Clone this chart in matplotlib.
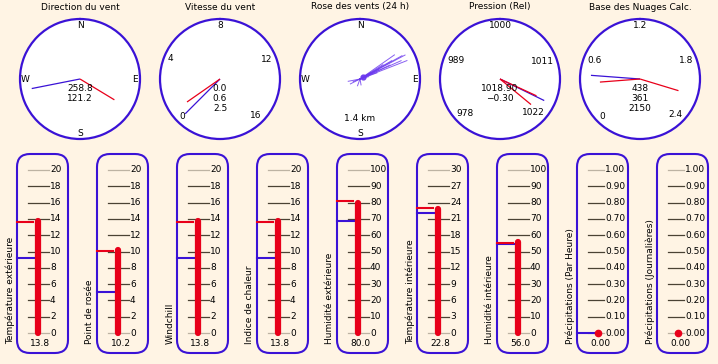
"""Weather station panel: five round dials on top, nine thermometers below."""

import numpy as np
import matplotlib

matplotlib.use("Agg")

import matplotlib.pyplot as plt
from matplotlib.patches import FancyBboxPatch

plt.rcParams["font.family"] = ["DejaVu Sans"]
plt.rcParams["font.size"] = 6.5

BG = "#fff4e4"
BLUE = "#3a12d6"
RED = "#e8001a"
ROSE = "#6a38ee"
TICK_DARK = "#4a4234"
TICK_LIGHT = "#bdb3a3"

# ---- dials ---------------------------------------------------------------
dial_titles = ["Direction du vent", "Vitesse du vent", "Rose des vents (24 h)",
               "Pression (Rel)", "Base des Nuages Calc."]

wind_dir_blue = 258.8
wind_dir_red = 121.2
wind_dir_text = ["258.8", "121.2"]

speed_range = (0, 16)
speed_labels = [0, 4, 8, 12, 16]
speed_blue = 0.0
speed_red = [0.6]
speed_text = ["0.0", "0.6", "2.5"]

rose_dirs = [62, 68.6, 61, 55, 60, 65, 58, 63, 70, 66, 259, 243, 250, 200, 170, 60, 75]
rose_lens = [0.85, 0.84, 0.80, 0.70, 0.61, 0.55, 0.45, 0.35, 0.30, 0.75,
             0.20, 0.18, 0.12, 0.12, 0.10, 0.20, 0.15]
rose_text = "1.4 km"

press_range = (978, 1022)
press_labels = [978, 989, 1000, 1011, 1022]
press_blue = 1018.9
press_red = [1018.7, 1021.1]
press_text = ["1018.90", "\u22120.30"]

cloud_range = (0, 2.4)
cloud_labels = ["0", "0.6", "1.2", "1.8", "2.4"]
cloud_blue = 0.438
cloud_red = [0.361, 2.150]
cloud_text = ["438", "361", "2150"]

# ---- thermometers --------------------------------------------------------
therm_labels = ["Température extérieure", "Point de rosée", "Windchill",
                "Indice de chaleur", "Humidité extérieure", "Température intérieure",
                "Humidité intérieure", "Précipitations (Par Heure)",
                "Précipitations (Journalières)"]
therm_values = [13.8, 10.2, 13.8, 13.8, 80.0, 22.8, 56.0, 0.00, 0.00]
therm_high = [13.6, 10.1, 13.6, 13.6, 80.8, 23.0, 55.4, None, None]
therm_low = [9.2, 5.0, 9.2, 9.2, 69.0, 22.1, 54.6, 0.0, None]
therm_max = [20, 20, 20, 20, 100, 30, 100, 1.0, 1.0]
therm_step = [2, 2, 2, 2, 10, 3, 10, 0.1, 0.1]
therm_fmt = ["{:.0f}"] * 7 + ["{:.2f}"] * 2
value_fmt = ["{:.1f}"] * 7 + ["{:.2f}"] * 2

W, H = 718, 364
fig = plt.figure(figsize=(W / 100, H / 100), dpi=100, facecolor=BG)
bg = fig.add_axes([0, 0, 1, 1])
bg.set_xlim(0, W)
bg.set_ylim(H, 0)
bg.axis("off")
bg.set_zorder(0)

DIAL_Y, DIAL_R = 79, 60
dial_x = [80 + 140 * i for i in range(5)]


def make_dial(cx, title):
    bg.text(cx, 7, title, ha="center", va="center")
    ax = fig.add_axes([(cx - DIAL_R) / W, (H - DIAL_Y - DIAL_R) / H,
                       2 * DIAL_R / W, 2 * DIAL_R / H], projection="polar")
    ax.set_theta_zero_location("N")
    ax.set_theta_direction(-1)
    ax.set_ylim(0, 1)
    ax.set_xticks([])
    ax.set_yticks([])
    ax.grid(False)
    ax.set_facecolor("white")
    ax.spines["polar"].set_color(BLUE)
    ax.spines["polar"].set_linewidth(1.6)
    return ax


def bearing(v, lo, hi):
    return np.deg2rad(-135 + (v - lo) / (hi - lo) * 270)


def needle(ax, theta, length, color, lw=0.9):
    ax.plot([theta, theta], [0, length], color=color, lw=lw, solid_capstyle="butt")


def center_text(ax, lines, start=0.417):
    for k, s in enumerate(lines):
        ax.text(0.5, start - k * 0.083, s, transform=ax.transAxes,
                ha="center", va="center")


def dial_label(ax, theta, s):
    # keep the outer edge of the label just inside the rim
    w = sum(2.9 if c == "." else 5.8 for c in s)
    r = (57.5 - w / 2 * abs(np.sin(theta)) - 3.5 * abs(np.cos(theta))) / DIAL_R
    ax.text(theta, r, s, ha="center", va="center")


def scale_labels(ax, labels, values, lo, hi):
    for lab, v in zip(labels, values):
        dial_label(ax, bearing(v, lo, hi), lab)


def compass(ax):
    for lab, b in zip("NESW", [0, 90, 180, 270]):
        dial_label(ax, np.deg2rad(b), lab)


# wind direction
ax = make_dial(dial_x[0], dial_titles[0])
compass(ax)
needle(ax, np.deg2rad(wind_dir_blue), 0.82, BLUE)
needle(ax, np.deg2rad(wind_dir_red), 0.67, RED)
center_text(ax, wind_dir_text)

# wind speed
ax = make_dial(dial_x[1], dial_titles[1])
scale_labels(ax, [str(v) for v in speed_labels], speed_labels, *speed_range)
needle(ax, bearing(speed_blue, *speed_range), 0.82, BLUE)
for v in speed_red:
    needle(ax, bearing(v, *speed_range), 0.67, RED)
center_text(ax, speed_text)

# wind rose
ax = make_dial(dial_x[2], dial_titles[2])
compass(ax)
for d, r in zip(rose_dirs, rose_lens):
    ax.plot([np.deg2rad(d), np.deg2rad(d)], [0, r], color=ROSE, lw=0.7, alpha=0.8)
ax.plot(np.deg2rad(60), 0.06, "o", ms=3.5, color=ROSE, alpha=0.9)
ax.text(0.5, 0.167, rose_text, transform=ax.transAxes, ha="center", va="center")

# pressure
ax = make_dial(dial_x[3], dial_titles[3])
scale_labels(ax, [str(v) for v in press_labels], press_labels, *press_range)
needle(ax, bearing(press_blue, *press_range), 0.82, BLUE)
for v in press_red:
    needle(ax, bearing(v, *press_range), 0.67, RED)
center_text(ax, press_text)

# cloud base
ax = make_dial(dial_x[4], dial_titles[4])
scale_labels(ax, cloud_labels, [float(s) for s in cloud_labels], *cloud_range)
needle(ax, bearing(cloud_blue, *cloud_range), 0.82, BLUE)
for v in cloud_red:
    needle(ax, bearing(v, *cloud_range), 0.67, RED)
center_text(ax, cloud_text)

# ---- thermometers ----------------------------------------------------------
BOX_TOP, BOX_BOT, BOX_W = 154, 353, 51
TOP_TICK, ZERO_TICK = 170, 333

for i, label in enumerate(therm_labels):
    x0 = 17 + 80 * i
    bg.add_patch(FancyBboxPatch((x0, BOX_TOP), BOX_W, BOX_BOT - BOX_TOP,
                                boxstyle="round,pad=0,rounding_size=13",
                                fc="none", ec=BLUE, lw=1.5))
    bg.text(x0 - 7, 344, label, rotation=90, ha="center", va="bottom")
    bg.text(x0 + 23.5, 344, value_fmt[i].format(therm_values[i]),
            ha="center", va="center")

    ax = fig.add_axes([x0 / W, (H - ZERO_TICK) / H, BOX_W / W,
                       (ZERO_TICK - TOP_TICK) / H])
    ax.set_xlim(0, BOX_W)
    ax.set_ylim(0, therm_max[i])
    ax.axis("off")

    n = int(round(therm_max[i] / therm_step[i]))
    label_x = 28 if therm_max[i] < 5 else 33
    for k in range(n + 1):
        t = k * therm_step[i]
        color = TICK_LIGHT if k in (0, n) else TICK_DARK
        ax.plot([11, label_x - 1], [t, t], color=color, lw=0.9, clip_on=False)
        ax.text(label_x, t, therm_fmt[i].format(t), ha="left", va="center",
                clip_on=False)

    v = therm_values[i]
    if v > 0:
        ax.plot([21, 21], [0, v], color=RED, lw=4.5, solid_capstyle="round",
                clip_on=False, zorder=4)
    else:
        ax.plot(21, 0, "o", ms=4.5, color=RED, clip_on=False, zorder=4)

    if therm_low[i] is not None:
        ax.plot([0, 17], [therm_low[i]] * 2, color=BLUE, lw=1.5, clip_on=False,
                zorder=3)
    if therm_high[i] is not None:
        ax.plot([0, 16], [therm_high[i]] * 2, color=RED, lw=1.5, clip_on=False,
                zorder=3)

fig.savefig("out.png", dpi=100, facecolor=BG)
